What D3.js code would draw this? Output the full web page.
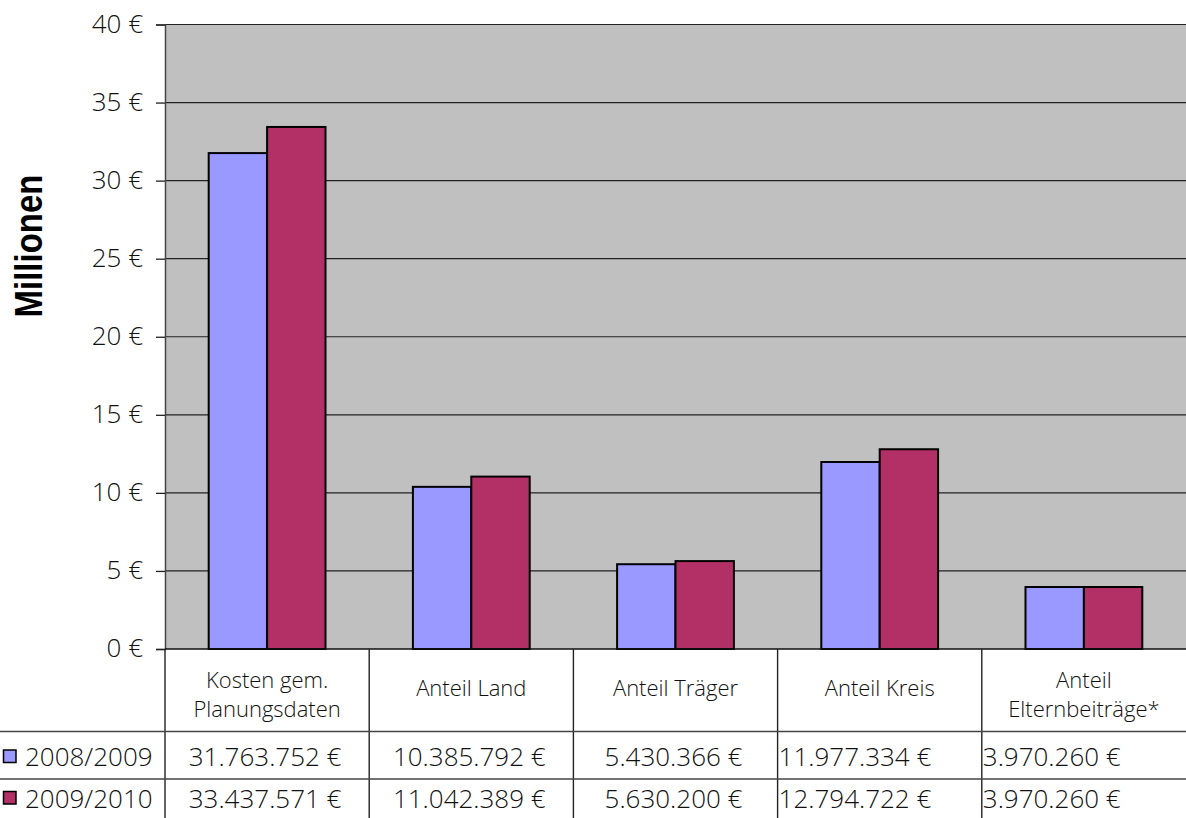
<!DOCTYPE html>
<html>
<head>
<meta charset="utf-8">
<script src="https://cdn.jsdelivr.net/npm/d3@7"></script>
<style>
	body { margin: 0; background: #fff; }
	svg { display: block; }
	.tick-label { font-family: "Open Sans", sans-serif; font-weight: 300; font-size: 26px; fill: #111; }
	.head { font-family: "Open Sans", sans-serif; font-weight: 300; font-size: 22px; fill: #111; }
	.cell { font-family: "Open Sans", sans-serif; font-weight: 300; font-size: 26px; fill: #111; }
</style>
</head>
<body>
<div id="chart"></div>
<script>
var categories = [
	["Kosten gem.", "Planungsdaten"],
	["Anteil Land"],
	["Anteil Träger"],
	["Anteil Kreis"],
	["Anteil", "Elternbeiträge*"]
];
var seriesNames = ["2008/2009", "2009/2010"];
var values0809 = [31763752, 10385792, 5430366, 11977334, 3970260];
var values0910 = [33437571, 11042389, 5630200, 12794722, 3970260];
var cellAlign = ["middle", "middle", "middle", "start", "start"];
var yTicks = [0, 5, 10, 15, 20, 25, 30, 35, 40];

var colors = ["#9999FF", "#B23066"];

var width = 1186, height = 818;
var plot = { left: 165, right: 1186, top: 24.5, bottom: 649 };
var rowTop = [649, 731.5, 779, 818];

var svg = d3.select('#chart').append('svg')
	.attr('width', width)
	.attr('height', height);

var x = d3.scaleBand()
	.domain(d3.range(categories.length))
	.range([plot.left, plot.right])
	.paddingInner(0.428)
	.paddingOuter(0.214);

var xs = d3.scaleBand()
	.domain(d3.range(seriesNames.length))
	.range([0, x.bandwidth()]);

var y = d3.scaleLinear()
	.domain([0, 40])
	.range([plot.bottom, plot.top]);

// plot background
svg.append('rect')
	.attr('x', plot.left)
	.attr('y', plot.top)
	.attr('width', plot.right - plot.left)
	.attr('height', plot.bottom - plot.top)
	.attr('fill', '#C0C0C0');

// gridlines
svg.append('g')
	.selectAll('line')
	.data(yTicks.filter(function(d) { return d > 0; }))
	.enter().append('line')
	.attr('x1', plot.left)
	.attr('x2', plot.right)
	.attr('y1', function(d) { return y(d); })
	.attr('y2', function(d) { return y(d); })
	.attr('stroke', '#222')
	.attr('stroke-width', 1.2);

// y axis
var yAxis = d3.axisLeft(y)
	.tickValues(yTicks)
	.tickSize(9)
	.tickPadding(13)
	.tickFormat(function(d) { return d + ' €'; });

var axisG = svg.append('g')
	.attr('transform', 'translate(' + plot.left + ',0)')
	.call(yAxis);
axisG.attr('font-family', null).attr('font-size', null);
axisG.select('.domain').attr('stroke', '#444').attr('stroke-width', 1.5);
axisG.selectAll('.tick line').attr('stroke', '#222').attr('stroke-width', 1.3);
axisG.selectAll('.tick text')
	.attr('class', 'tick-label')
	.attr('dy', '0.3em');

// bars
var data = [values0809, values0910];
var group = svg.append('g')
	.selectAll('g.cat')
	.data(categories)
	.enter().append('g')
	.attr('class', 'cat')
	.attr('transform', function(d, i) { return 'translate(' + x(i) + ',0)'; });

group.selectAll('rect')
	.data(function(d, i) { return data.map(function(s, k) { return { s: k, v: s[i] / 1e6 }; }); })
	.enter().append('rect')
	.attr('x', function(d) { return xs(d.s); })
	.attr('width', xs.bandwidth())
	.attr('y', function(d) { return y(d.v); })
	.attr('height', function(d) { return y(0) - y(d.v); })
	.attr('fill', function(d) { return colors[d.s]; })
	.attr('stroke', '#000')
	.attr('stroke-width', 2);

// y title (glyphs are a bit stretched in the original)
svg.append('text')
	.attr('transform', 'translate(41.5,246) rotate(-90) scale(1,1.2)')
	.attr('text-anchor', 'middle')
	.attr('font-family', '"Liberation Sans", Arial, sans-serif')
	.attr('font-weight', 'bold')
	.attr('font-size', 33)
	.text('Millionen');

// data table
var step = x.step();
var colEdges = d3.range(categories.length + 1).map(function(i) {
	return plot.left + i * step;
});

var table = svg.append('g');

// zero line across plot
table.append('line')
	.attr('x1', plot.left).attr('x2', plot.right)
	.attr('y1', plot.bottom).attr('y2', plot.bottom)
	.attr('stroke', '#111').attr('stroke-width', 1.5);

table.selectAll('line.v')
	.data(colEdges.slice(0, -1))
	.enter().append('line')
	.attr('class', 'v')
	.attr('x1', function(d) { return d; })
	.attr('x2', function(d) { return d; })
	.attr('y1', rowTop[0])
	.attr('y2', height)
	.attr('stroke', '#222')
	.attr('stroke-width', 1.4);

table.selectAll('line.h')
	.data([rowTop[1], rowTop[2]])
	.enter().append('line')
	.attr('class', 'h')
	.attr('x1', 0)
	.attr('x2', plot.right)
	.attr('y1', function(d) { return d; })
	.attr('y2', function(d) { return d; })
	.attr('stroke', '#444')
	.attr('stroke-width', 1.4);

// header labels
categories.forEach(function(lines, i) {
	var cx = x(i) + x.bandwidth() / 2;
	var base = lines.length > 1 ? [688, 717] : [696];
	lines.forEach(function(line, j) {
		table.append('text')
			.attr('class', 'head')
			.attr('x', cx)
			.attr('y', base[j])
			.attr('text-anchor', 'middle')
			.text(line);
	});
});

// rows
var fmt = d3.formatLocale({ decimal: ',', thousands: '.', grouping: [3], currency: ['', ' €'] }).format('$,.0f');
var rowCenters = [756.5, 798];

data.forEach(function(series, k) {
	var cy = rowCenters[k];
	table.append('rect')
		.attr('x', 3.5)
		.attr('y', cy - 6.5)
		.attr('width', 12.5)
		.attr('height', 12.5)
		.attr('fill', colors[k])
		.attr('stroke', '#000')
		.attr('stroke-width', 1.5);
	table.append('text')
		.attr('class', 'cell')
		.attr('x', 25)
		.attr('y', cy + 9.5)
		.text(seriesNames[k]);
	series.forEach(function(v, i) {
		var align = cellAlign[i];
		table.append('text')
			.attr('class', 'cell')
			.attr('x', align === 'middle' ? colEdges[i] + step / 2 - 2 : colEdges[i] + 1)
			.attr('y', cy + 9.5)
			.attr('text-anchor', align)
			.text(fmt(v));
	});
});
</script>
</body>
</html>
